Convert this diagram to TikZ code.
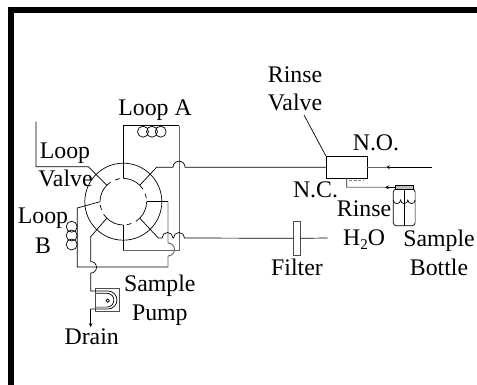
\documentclass[tikz,border=0pt]{standalone}
\usepackage{fontspec}
\setmainfont{Liberation Serif}

\begin{document}
\begin{tikzpicture}[x=1pt, y=-1pt, >=stealth, line width=0.7pt,
        label/.style={anchor=base, inner sep=0pt, outer sep=0pt, font=\fontsize{23.8}{26}\selectfont},
        pipe/.style={line width=0.7pt},
        gray pipe/.style={line width=0.9pt, color=black!60},
        coil/.style={circle, draw, minimum size=11pt, inner sep=0pt, outer sep=0pt}]
        \useasboundingbox (0,0) rectangle (477,385);
        \draw[line width=5.8pt] (10.6,385) -- (10.6,10.2) -- (477,10.2);

        % loop valve
        \node[circle, draw, minimum size=77pt, inner sep=0pt, outer sep=0pt](valve_outer) at (123.3,201.7) {};
        \node[circle, minimum size=46.6pt, inner sep=0pt, outer sep=0pt](valve_inner) at (123.3,201.7) {};
        \foreach \a in {90,0,-90,180}
            \draw[pipe] (valve_inner.\a) arc[start angle=\a, delta angle=-45, radius=23.3pt];
        \foreach \a in {45,-45,-135,135}
            \draw[pipe, dash pattern=on 5pt off 5pt] (valve_inner.\a) arc[start angle=\a, delta angle=-45, radius=23.3pt];

        % loop a
        \coordinate(a_left_top) at (123.3,125.7);
        \coordinate(a_right_top) at (179,125.7);
        \coordinate(a_right_bottom) at (179,250);
        \coordinate(a_left_bottom) at (123.3,250);
        \draw[pipe] (valve_inner.90) -- (a_left_top) -- (a_right_top);
        \draw[gray pipe] (a_right_top) -- (a_right_bottom) -- (a_left_bottom);
        \draw[pipe] (a_left_bottom) -- (valve_inner.-90);
        \node[coil](a_coil_1) at (143,131.7) {};
        \node[coil](a_coil_2) at (152,131.7) {};
        \node[coil](a_coil_3) at (160.7,131.7) {};

        % loop b
        \coordinate(b_top) at (77.3,208);
        \coordinate(b_bottom) at (77.3,267);
        \coordinate(b_right_bottom) at (168,267);
        \coordinate(b_hop_low) at (168,256);
        \coordinate(b_hop_high) at (168,243);
        \coordinate(b_right_top) at (168,201.7);
        \draw[pipe] (valve_inner.180) -- (b_top) -- (b_bottom) -- (b_right_bottom);
        \draw[gray pipe] (b_right_bottom) -- (b_hop_low) arc[start angle=-90, end angle=90, radius=6.5pt] -- (b_hop_high) -- (b_right_top);
        \draw[pipe] (b_right_top) -- (valve_inner.0);
        \node[coil](b_coil_1) at (71.7,226.7) {};
        \node[coil](b_coil_2) at (71.7,235.5) {};
        \node[coil](b_coil_3) at (71.7,244.5) {};

        % leader of the valve label
        \coordinate(leader_bend) at (88.3,166.7);
        \coordinate(leader_corner) at (36,166.7);
        \coordinate(leader_end) at (36,121.7);
        \draw[pipe] (valve_inner.135) -- (leader_bend) -- (leader_corner) -- (leader_end);

        % rinse valve
        \node[draw, minimum width=41.3pt, minimum height=22.3pt, inner sep=0pt, outer sep=0pt](rinse_valve) at (346.6,167.2) {};
        \coordinate(no_bend) at (156.7,167.2);
        \coordinate(no_hop) at (173,167.2);
        \draw[pipe] (valve_inner.45) -- (no_bend) -- (no_hop) arc[start angle=180, end angle=0, radius=6pt] -- (rinse_valve.west);
        \coordinate(no_end) at (431.7,167.2);
        \coordinate(no_tip) at (386,167.2);
        \draw[->, pipe] (no_end) -- (no_tip);
        \draw[gray pipe] (no_tip) -- (rinse_valve.east);
        \coordinate(rinse_leader) at (304,115);
        \draw[pipe] (rinse_leader) -- (rinse_valve.north west);
        \draw[black!50, line width=0.5pt, dash pattern=on 3pt off 1.5pt] (349,180.3) -- (364,180.3);

        % bottle
        \node[draw, rounded corners=3pt, minimum width=21.8pt, minimum height=36.7pt, inner sep=0pt, outer sep=0pt](bottle) at (404.2,207.4) {};
        \node[draw, fill=black!25, minimum width=18.3pt, minimum height=3.3pt, inner sep=0pt, outer sep=0pt](bottle_cap) at (404.2,187.3) {};
        \draw[pipe] (bottle_cap.south) -- (bottle.south);
        \draw[pipe] (393.3,200) arc[start angle=180, end angle=360, radius=3.63pt]
            arc[start angle=180, end angle=360, radius=3.63pt]
            arc[start angle=180, end angle=360, radius=3.63pt];
        \coordinate(nc_bend) at (346.7,187.3);
        \coordinate(nc_tip) at (385,187.3);
        \draw[gray pipe] (rinse_valve.south) -- (nc_bend) -- (nc_tip);
        \draw[->, pipe] (bottle_cap.west) -- (nc_tip);

        % filter
        \node[draw, color=black!70, minimum width=7pt, minimum height=33.3pt, inner sep=0pt, outer sep=0pt](filter) at (296.8,238.3) {};
        \coordinate(f_bend) at (158.3,238);
        \coordinate(f_hop) at (162,238);
        \coordinate(f_end) at (327.7,238);
        \draw[pipe] (valve_inner.-45) -- (f_bend) -- (f_hop) arc[start angle=180, end angle=0, radius=5.5pt]
            -- ++(0.5,0) arc[start angle=180, end angle=0, radius=5.5pt] -- (filter.west);
        \draw[pipe] (filter.east) -- (f_end);

        % pump and drain
        \coordinate(p_bend) at (90.7,236.7);
        \coordinate(p_hop) at (90.7,261.5);
        \coordinate(p_in) at (90.7,291);
        \coordinate(p_top) at (108,291);
        \coordinate(p_bottom) at (108,309);
        \coordinate(p_out) at (90.7,309);
        \coordinate(drain_tip) at (90.7,327);
        \node[draw, color=black!70, minimum width=23.3pt, minimum height=23pt, inner sep=0pt, outer sep=0pt](pump) at (107.4,299.7) {};
        \draw[pipe] (valve_inner.-135) -- (p_bend) -- (p_hop) arc[start angle=90, end angle=-90, radius=5.8pt]
            -- (p_in) -- (p_top) arc[start angle=90, end angle=-90, radius=9pt] -- (p_out);
        \draw[->, pipe] (p_out) -- (drain_tip);
        \draw[pipe] (96,293.3) -- (107,293.3) arc[start angle=90, end angle=-90, radius=6.9pt] -- (96,307.1);
        \node[circle, draw, minimum size=3.4pt, inner sep=0pt, outer sep=0pt](rotor) at (107.7,300.7) {};

        % labels
        \node[label](loop_a) at (155,116) {Loop A};
        \node[label](valve_1) at (65,159) {Loop};
        \node[label](valve_2) at (65.5,186.7) {Valve};
        \node[label](loop_b_1) at (43,224) {Loop};
        \node[label](loop_b_2) at (43,254) {B};
        \node[label](pump_1) at (159.8,291.7) {Sample};
        \node[label](pump_2) at (159.8,320) {Pump};
        \node[label](drain) at (91.7,344) {Drain};
        \node[label](rinse_1) at (295,82.7) {Rinse};
        \node[label](rinse_2) at (295,110.7) {Valve};
        \node[label](no) at (376,150.7) {N.O.};
        \node[label](nc) at (315.5,198) {N.C.};
        \node[label](water_1) at (364,216.7) {Rinse};
        \node[label](water_2) at (364,245) {H\raisebox{-5pt}{\fontsize{15}{15}\selectfont 2}O};
        \node[label](bottle_1) at (439,246.7) {Sample};
        \node[label](bottle_2) at (439,276) {Bottle};
        \node[label](filter_label) at (297,276) {Filter};
\end{tikzpicture}
\end{document}
